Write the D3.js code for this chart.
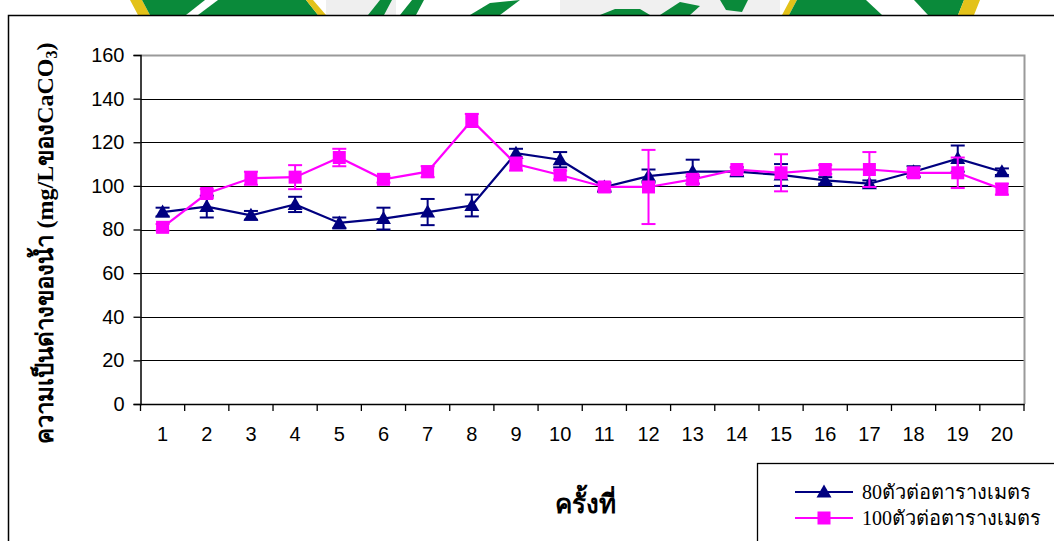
<!DOCTYPE html>
<html>
<head>
<meta charset="utf-8">
<script src="https://cdn.jsdelivr.net/npm/d3@7"></script>
<style>
  body { margin: 0; background: #fff; }
  svg { display: block; }
</style>
</head>
<body>
<svg id="chart" width="1054" height="541"></svg>
<script>
// data
var rounds = d3.range(1, 21);
var dens80 = [88, 90.5, 86.5, 91.5, 83, 85, 88, 91, 115, 112, 99.5, 104.5, 106.5, 106.5, 105, 102.5, 101, 106.5, 112.5, 106.5];
var err80 = [2, 5, 2, 3.5, 2.5, 5, 6, 5, 2, 3.5, 2, 3, 5.5, 2, 5, 1.5, 1.5, 2.5, 6, 1.5];
var dens100 = [81, 96.5, 103.5, 104, 113, 103, 106.5, 130, 110, 105, 99.5, 99.5, 103, 107.5, 106, 107.5, 107.5, 106, 106, 98.5];
var err100 = [1.5, 2, 3, 5.5, 4, 1.5, 2.5, 3, 3, 2, 1.5, 17, 2, 1, 8.5, 2, 8, 1.5, 7, 2.5];
var yTicks = [0, 20, 40, 60, 80, 100, 120, 140, 160];
var seriesNames = ["80ตัวต่อตารางเมตร", "100ตัวต่อตารางเมตร"];

var svg = d3.select("#chart");
// note: "top" is taken by window.top, so plot* names
var plotLeft = 140.5, plotRight = 1024, plotTop = 55, plotBottom = 404;

var x = d3.scaleBand().domain(rounds).range([plotLeft, plotRight]);
var y = d3.scaleLinear().domain([0, 160]).range([plotBottom, plotTop]);

//watermark bits at the very top (logo peeking over the frame)
var wm = svg.append("g");
wm.append("clipPath").attr("id", "wmclip").append("rect").attr("x", 0).attr("y", 0).attr("width", 1054).attr("height", 15);
var wg = wm.append("g").attr("clip-path", "url(#wmclip)");
wg.append("rect").attr("x", 326).attr("y", 0).attr("width", 70).attr("height", 15).attr("fill", "#efefef");
wg.append("rect").attr("x", 560).attr("y", 0).attr("width", 220).attr("height", 15).attr("fill", "#f0f0f0");
var polys = [
  {c: "#e3c21a", p: [[130, 0], [142, 0], [150, 15], [138, 15]]},
  {c: "#0a8a3a", p: [[142, 0], [205, 0], [186, 15], [150, 15]]},
  {c: "#0a8a3a", p: [[218, 0], [306, 0], [318, 15], [198, 15]]},
  {c: "#e3c21a", p: [[306, 0], [313, 0], [326, 15], [318, 15]]},
  {c: "#0a8a3a", p: [[368, 15], [380, 0], [392, 0], [384, 15]]},
  {c: "#0a8a3a", p: [[400, 15], [412, 0], [424, 0], [416, 15]]},
  {c: "#0a8a3a", p: [[470, 15], [490, 3], [520, 0], [500, 15]]},
  {c: "#0a8a3a", p: [[600, 15], [615, 9], [640, 9], [650, 15]]},
  {c: "#0a8a3a", p: [[660, 15], [680, 2], [700, 6], [690, 15]]},
  {c: "#0a8a3a", p: [[720, 0], [748, 0], [742, 12], [726, 10]]},
  {c: "#e3c21a", p: [[782, 15], [790, 0], [797, 0], [789, 15]]},
  {c: "#0a8a3a", p: [[789, 15], [797, 0], [866, 0], [882, 15]]},
  {c: "#0a8a3a", p: [[914, 0], [964, 0], [958, 15], [928, 15]]},
  {c: "#e3c21a", p: [[964, 0], [980, 0], [974, 15], [958, 15]]}
];
wg.selectAll("polygon.wm").data(polys).enter().append("polygon")
  .attr("points", function(d) { return d.p.join(" "); })
  .attr("fill", function(d) { return d.c; });

// outer frame
svg.append("rect").attr("x", 8.5).attr("y", 15.5).attr("width", 1100).attr("height", 600)
  .attr("fill", "#fff").attr("stroke", "#000").attr("stroke-width", 1.5);

// gridlines
svg.selectAll("line.grid").data(yTicks.filter(function(t) { return t > 0 && t < 160; }))
  .enter().append("line")
  .attr("x1", plotLeft).attr("x2", plotRight)
  .attr("y1", function(d) { return Math.round(y(d)) + 0.5; })
  .attr("y2", function(d) { return Math.round(y(d)) + 0.5; })
  .attr("stroke", "#000").attr("stroke-width", 1);

// plot border (gray top/right)
svg.append("path")
  .attr("d", "M" + plotLeft + "," + (plotTop + 0.5) + "H" + (plotRight + 0.5) + "V" + plotBottom)
  .attr("fill", "none").attr("stroke", "#9a9a9a").attr("stroke-width", 2);

// y axis
var yAxis = svg.append("g").attr("transform", "translate(" + plotLeft + ",0)")
  .call(d3.axisLeft(y).tickValues(yTicks).tickSize(7).tickPadding(9));
// x axis, ticks between categories like excel
var xAxis = svg.append("g").attr("transform", "translate(0," + plotBottom + ")")
  .call(d3.axisBottom(x).tickSize(0).tickPadding(37));
svg.selectAll("line.xt").data(d3.range(0, 21)).enter().append("line")
  .attr("x1", function(d) { return plotLeft + d * x.step(); })
  .attr("x2", function(d) { return plotLeft + d * x.step(); })
  .attr("y1", plotBottom).attr("y2", plotBottom + 7)
  .attr("stroke", "#000").attr("stroke-width", 1.3);

[yAxis, xAxis].forEach(function(g) {
  g.select(".domain").attr("stroke", "#000").attr("stroke-width", 1.5);
  g.selectAll(".tick line").attr("stroke", "#000").attr("stroke-width", 1.3);
  g.selectAll("text").attr("font-family", "Liberation Sans, Arial, sans-serif")
    .attr("font-size", 20).attr("fill", "#000");
});
xAxis.selectAll("text").attr("dy", "0");

// series
var series = [
  {name: seriesNames[0], vals: dens80, errs: err80, color: "#000080", shape: "tri"},
  {name: seriesNames[1], vals: dens100, errs: err100, color: "#ff00ff", shape: "sq"}
];

function marker(g, shape, color) {
  if (shape === "tri") {
    g.append("path").attr("d", "M0,-7.5L7.5,5.5L-7.5,5.5Z").attr("fill", color);
  } else {
    g.append("rect").attr("x", -6.5).attr("y", -6.5).attr("width", 13).attr("height", 13).attr("fill", color);
  }
}

var line = d3.line()
  .x(function(d, i) { return x(rounds[i]) + x.bandwidth() / 2; })
  .y(function(d) { return y(d); });

series.forEach(function(s) {
  var g = svg.append("g");
  g.append("path").datum(s.vals).attr("d", line)
    .attr("fill", "none").attr("stroke", s.color).attr("stroke-width", 2.2);
  s.vals.forEach(function(v, i) {
    var cx = x(rounds[i]) + x.bandwidth() / 2;
    var hi = y(v + s.errs[i]), lo = y(v - s.errs[i]);
    g.append("line").attr("x1", cx).attr("x2", cx).attr("y1", hi).attr("y2", lo)
      .attr("stroke", s.color).attr("stroke-width", 2);
    [hi, lo].forEach(function(cy) {
      g.append("line").attr("x1", cx - 7).attr("x2", cx + 7).attr("y1", cy).attr("y2", cy)
        .attr("stroke", s.color).attr("stroke-width", 2);
    });
    var m = g.append("g").attr("transform", "translate(" + cx + "," + y(v) + ")");
    marker(m, s.shape, s.color);
  });
});

// axis titles
var thaiSerif = "Liberation Serif, Times New Roman, serif";
svg.append("text").attr("x", 585).attr("y", 513).attr("text-anchor", "middle")
  .attr("font-family", thaiSerif).attr("font-weight", "bold").attr("font-size", 26)
  .text("ครั้งที่");

var yt = svg.append("text").attr("transform", "translate(53,243) rotate(-90)")
  .attr("text-anchor", "middle")
  .attr("font-family", thaiSerif).attr("font-weight", "bold").attr("font-size", 24);
yt.append("tspan").text("ความเป็นด่างของน้ำ (mg/LของCaCO");
yt.append("tspan").attr("font-size", 16).attr("dy", 4).text("3");
yt.append("tspan").attr("dy", -4).text(")");

// legend
svg.append("rect").attr("x", 757.5).attr("y", 463.5).attr("width", 400).attr("height", 200)
  .attr("fill", "#fff").attr("stroke", "#000").attr("stroke-width", 1.3);
var lg = svg.selectAll("g.leg").data(series).enter().append("g")
  .attr("transform", function(d, i) { return "translate(795," + (492 + i * 26) + ")"; });
lg.append("line").attr("x1", 0).attr("x2", 58).attr("stroke", function(d) { return d.color; }).attr("stroke-width", 2);
lg.each(function(d) {
  var m = d3.select(this).append("g").attr("transform", "translate(29,0)");
  marker(m, d.shape, d.color);
});
lg.append("text").attr("x", 67).attr("y", 7)
  .attr("font-family", thaiSerif).attr("font-size", 20)
  .text(function(d) { return d.name; });
</script>
</body>
</html>
